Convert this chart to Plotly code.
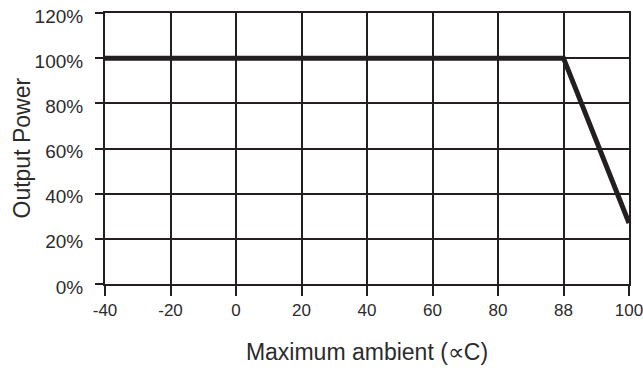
import plotly.graph_objects as go

# Data
x_ticks = ["-40", "-20", "0", "20", "40", "60", "80", "88", "100"]
curve_x = ["-40", "88", "100"]
curve_y = [100, 100, 27]
y_ticks = [0, 20, 40, 60, 80, 100, 120]
y_tick_text = ["0%", "20%", "40%", "60%", "80%", "100%", "120%"]

INK = "#231f20"
TXT = "#2b2b2b"
XTICKFONT = dict(family="Liberation Sans, Arial", size=17, color=TXT)
YTICKFONT = dict(family="Liberation Sans, Arial", size=19, color=TXT)
TITLEFONT = dict(family="Liberation Sans, Arial, Helvetica", size=23, color=TXT)

L, R, T, B = 105, 14, 13, 87
W, H = 643, 371
plot_w = W - L - R

fig = go.Figure()
fig.add_trace(go.Scatter(
    x=curve_x, y=curve_y, mode="lines",
    line=dict(color=INK, width=5),
    hoverinfo="skip", showlegend=False,
))

fig.add_annotation(
    text="Output Power", xref="paper", yref="paper",
    x=-(L - 21) / plot_w, y=0.5, xanchor="center", yanchor="middle",
    textangle=-90, showarrow=False, font=TITLEFONT,
)

fig.update_layout(
    width=W, height=H,
    margin=dict(l=L, r=R, t=T, b=B),
    paper_bgcolor="white", plot_bgcolor="white",
    xaxis=dict(
        type="category", categoryorder="array", categoryarray=x_ticks,
        range=[0, len(x_ticks) - 1], automargin=False,
        tickmode="array", tickvals=x_ticks, ticktext=x_ticks,
        showgrid=True, gridcolor=INK, gridwidth=2,
        ticks="outside", ticklen=10, tickwidth=2, tickcolor=INK,
        showline=True, linecolor=INK, linewidth=2, mirror=True,
        tickfont=XTICKFONT,
        title=dict(text="Maximum ambient (∝C)", font=TITLEFONT, standoff=24),
        zeroline=False,
    ),
    yaxis=dict(
        range=[0, 120], automargin=False,
        tickmode="array", tickvals=y_ticks, ticktext=y_tick_text,
        showgrid=True, gridcolor=INK, gridwidth=2,
        ticks="outside", ticklen=8, tickwidth=2, tickcolor=INK,
        showline=True, linecolor=INK, linewidth=2, mirror=True,
        tickfont=YTICKFONT,
        ticklabelstandoff=8,
        ticklabelshift=3,
        zeroline=False,
    ),
)

fig.write_html("out.html")
